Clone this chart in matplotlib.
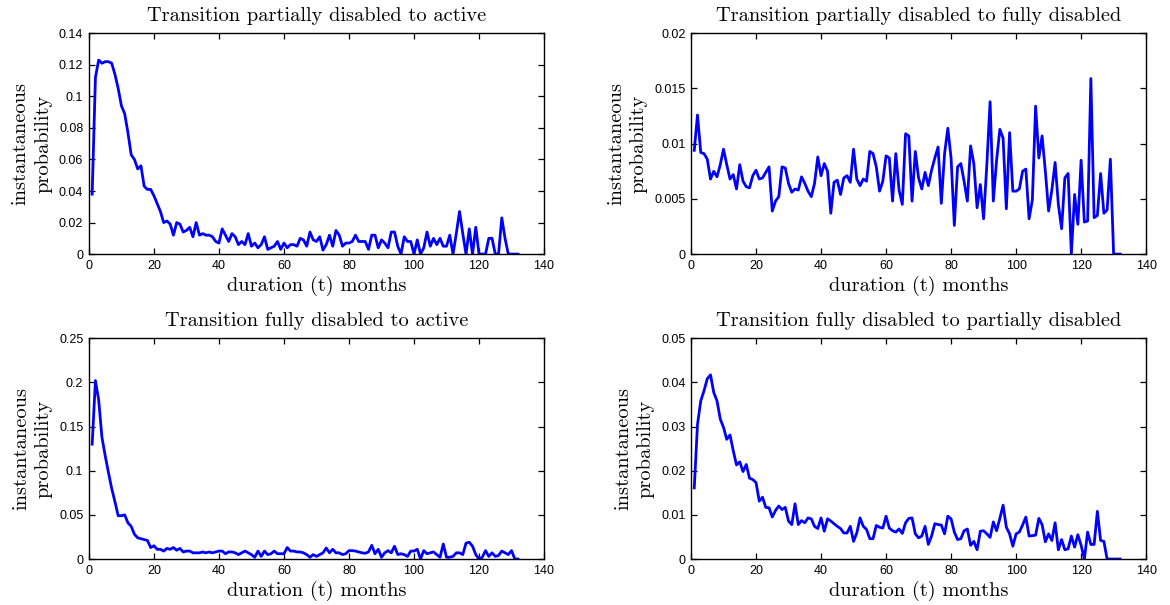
import numpy as np
import matplotlib
matplotlib.use("Agg")
import matplotlib.pyplot as plt
from matplotlib.ticker import FuncFormatter

# months 1..132
months = np.arange(1, 133)

partial_to_active = [
    0.038, 0.112, 0.123, 0.121, 0.122, 0.122, 0.121, 0.114, 0.105, 0.094,
    0.089, 0.077, 0.063, 0.060, 0.054, 0.056, 0.043, 0.041, 0.041, 0.037,
    0.032, 0.027, 0.020, 0.021, 0.019, 0.012, 0.020, 0.019, 0.014, 0.015,
    0.017, 0.011, 0.020, 0.012, 0.013, 0.012, 0.012, 0.011, 0.008, 0.007,
    0.016, 0.012, 0.008, 0.013, 0.011, 0.006, 0.008, 0.006, 0.013, 0.005,
    0.007, 0.004, 0.006, 0.011, 0.003, 0.004, 0.005, 0.008, 0.003, 0.007,
    0.004, 0.006, 0.006, 0.005, 0.010, 0.009, 0.005, 0.014, 0.009, 0.008,
    0.011, 0.0025, 0.006, 0.012, 0.005, 0.015, 0.012, 0.005, 0.007, 0.007,
    0.008, 0.012, 0.008, 0.008, 0.008, 0.003, 0.012, 0.012, 0.004, 0.009,
    0.007, 0.004, 0.014, 0.014, 0.005, 0.0, 0.011, 0.008, 0.008, 0.0,
    0.009, 0.0, 0.004, 0.014, 0.005, 0.010, 0.006, 0.010, 0.005, 0.005,
    0.012, 0.0, 0.013, 0.027, 0.013, 0.0, 0.016, 0.0, 0.017, 0.0,
    0.0, 0.0, 0.010, 0.010, 0.0, 0.0, 0.023, 0.010, 0.0, 0.0,
    0.0, 0.0,
]

partial_to_full = [
    0.0094, 0.0126, 0.0092, 0.0091, 0.0086, 0.0068, 0.0075, 0.0070, 0.0081, 0.0095,
    0.0081, 0.0068, 0.0072, 0.0059, 0.0081, 0.0066, 0.0061, 0.0060, 0.0071, 0.0076,
    0.0068, 0.0069, 0.0074, 0.0079, 0.0039, 0.0048, 0.0052, 0.0079, 0.0078, 0.0064,
    0.0056, 0.0059, 0.0058, 0.0070, 0.0064, 0.0057, 0.0052, 0.0064, 0.0088, 0.0071,
    0.0082, 0.0075, 0.0037, 0.0065, 0.0067, 0.0054, 0.0069, 0.0071, 0.0065, 0.0095,
    0.0068, 0.0062, 0.0068, 0.0066, 0.0093, 0.0091, 0.0079, 0.0057, 0.0066, 0.0089,
    0.0087, 0.0048, 0.0091, 0.0058, 0.0045, 0.0109, 0.0107, 0.0048, 0.0093, 0.0069,
    0.0059, 0.0074, 0.0062, 0.0076, 0.0087, 0.0097, 0.0046, 0.0091, 0.0114, 0.0087,
    0.0026, 0.0079, 0.0082, 0.0066, 0.0048, 0.0098, 0.0082, 0.0042, 0.0063, 0.0032,
    0.0081, 0.0138, 0.0048, 0.0085, 0.0113, 0.0105, 0.0041, 0.0110, 0.0057, 0.0057,
    0.0059, 0.0075, 0.0077, 0.0032, 0.0049, 0.0134, 0.0087, 0.0107, 0.0075, 0.0039,
    0.0058, 0.0083, 0.0045, 0.0023, 0.0069, 0.0073, 0.0, 0.0054, 0.0027, 0.0085,
    0.0029, 0.0030, 0.0159, 0.0033, 0.0035, 0.0073, 0.0037, 0.0040, 0.0086, 0.0,
    0.0, 0.0,
]

full_to_active = [
    0.130, 0.202, 0.180, 0.138, 0.117, 0.098, 0.080, 0.065, 0.049, 0.049,
    0.050, 0.041, 0.037, 0.028, 0.024, 0.023, 0.022, 0.021, 0.013, 0.015,
    0.011, 0.011, 0.009, 0.012, 0.011, 0.013, 0.010, 0.012, 0.008, 0.009,
    0.009, 0.007, 0.007, 0.007, 0.008, 0.007, 0.008, 0.007, 0.008, 0.009,
    0.009, 0.006, 0.008, 0.008, 0.007, 0.005, 0.007, 0.009, 0.007, 0.005,
    0.002, 0.009, 0.003, 0.009, 0.005, 0.006, 0.009, 0.006, 0.006, 0.006,
    0.013, 0.009, 0.009, 0.008, 0.008, 0.007, 0.005, 0.002, 0.005, 0.003,
    0.005, 0.007, 0.0125, 0.007, 0.011, 0.007, 0.007, 0.005, 0.006, 0.0095,
    0.0095, 0.009, 0.008, 0.007, 0.0065, 0.008, 0.0155, 0.006, 0.011, 0.002,
    0.007, 0.0095, 0.007, 0.0145, 0.005, 0.006, 0.005, 0.003, 0.009, 0.009,
    0.011, 0.0, 0.0095, 0.006, 0.007, 0.008, 0.005, 0.002, 0.017, 0.002,
    0.002, 0.003, 0.007, 0.007, 0.005, 0.018, 0.019, 0.0145, 0.005, 0.0,
    0.002, 0.0095, 0.003, 0.007, 0.003, 0.004, 0.009, 0.007, 0.005, 0.0095,
    0.0, 0.0,
]

full_to_partial = [
    0.0161, 0.0305, 0.0358, 0.0381, 0.0408, 0.0417, 0.0377, 0.0358, 0.0317, 0.0298,
    0.0271, 0.0281, 0.0245, 0.0213, 0.0220, 0.0198, 0.0214, 0.0183, 0.0180, 0.0173,
    0.0131, 0.0140, 0.0117, 0.0116, 0.0095, 0.0110, 0.0120, 0.0112, 0.0117, 0.0086,
    0.0078, 0.0125, 0.0078, 0.0087, 0.0082, 0.0093, 0.0091, 0.0074, 0.0069, 0.0093,
    0.0063, 0.0091, 0.0086, 0.0080, 0.0074, 0.0069, 0.0059, 0.0059, 0.0074, 0.0040,
    0.0059, 0.0093, 0.0074, 0.0067, 0.0046, 0.0046, 0.0076, 0.0072, 0.0070, 0.0097,
    0.0070, 0.0064, 0.0061, 0.0068, 0.0058, 0.0082, 0.0092, 0.0093, 0.0057, 0.0048,
    0.0052, 0.0074, 0.0033, 0.0052, 0.0080, 0.0078, 0.0077, 0.0057, 0.0097, 0.0091,
    0.0061, 0.0044, 0.0046, 0.0064, 0.0068, 0.0031, 0.0040, 0.0021, 0.0063, 0.0064,
    0.0057, 0.0049, 0.0084, 0.0064, 0.0092, 0.0122, 0.0072, 0.0057, 0.0029, 0.0057,
    0.0061, 0.0077, 0.0095, 0.0052, 0.0053, 0.0054, 0.0092, 0.0078, 0.0039, 0.0057,
    0.0042, 0.0082, 0.0021, 0.0044, 0.0021, 0.0023, 0.0052, 0.0027, 0.0055, 0.0031,
    0.0, 0.0061, 0.0033, 0.0033, 0.0108, 0.0042, 0.0040, 0.0, 0.0, 0.0,
    0.0, 0.0,
]

titles = [
    "Transition partially disabled to active",
    "Transition partially disabled to fully disabled",
    "Transition fully disabled to active",
    "Transition fully disabled to partially disabled",
]
series = [partial_to_active, partial_to_full, full_to_active, full_to_partial]
ymax = [0.14, 0.02, 0.25, 0.05]
ystep = [0.02, 0.005, 0.05, 0.01]

serif = "cmr10"
tick_font = ["Liberation Sans", "DejaVu Sans"]

fig = plt.figure(figsize=(11.7, 6.05), dpi=100)
lefts = [0.076, 0.5906]
bottoms = [0.580, 0.076]
w, h = 0.389, 0.365

for i in range(4):
    ax = fig.add_axes([lefts[i % 2], bottoms[i // 2], w, h])
    ax.plot(months, series[i], color=(0, 0, 1), linewidth=2)
    ax.set_xlim(0, 140)
    ax.set_ylim(0, ymax[i])
    ax.set_xticks(np.arange(0, 141, 20))
    ax.set_yticks(np.arange(0, ymax[i] + ystep[i] / 2, ystep[i]))
    ax.yaxis.set_major_formatter(FuncFormatter(lambda v, p: "%g" % round(v, 4)))
    ax.tick_params(direction="in", top=True, right=True, length=4.5, width=0.9,
                   labelsize=9, pad=4)
    for lab in ax.get_xticklabels() + ax.get_yticklabels():
        lab.set_family(tick_font)
    for s in ax.spines.values():
        s.set_linewidth(1.0)
    ax.set_title(titles[i], fontfamily=serif, fontsize=14.7, pad=9)
    ax.set_xlabel("duration (t) months", fontfamily=serif, fontsize=14.7, labelpad=3)
    ax.set_ylabel("instantaneous\nprobability", fontfamily=serif, fontsize=14.7,
                  labelpad=5, linespacing=1.3)

fig.savefig("out.png", dpi=100)
